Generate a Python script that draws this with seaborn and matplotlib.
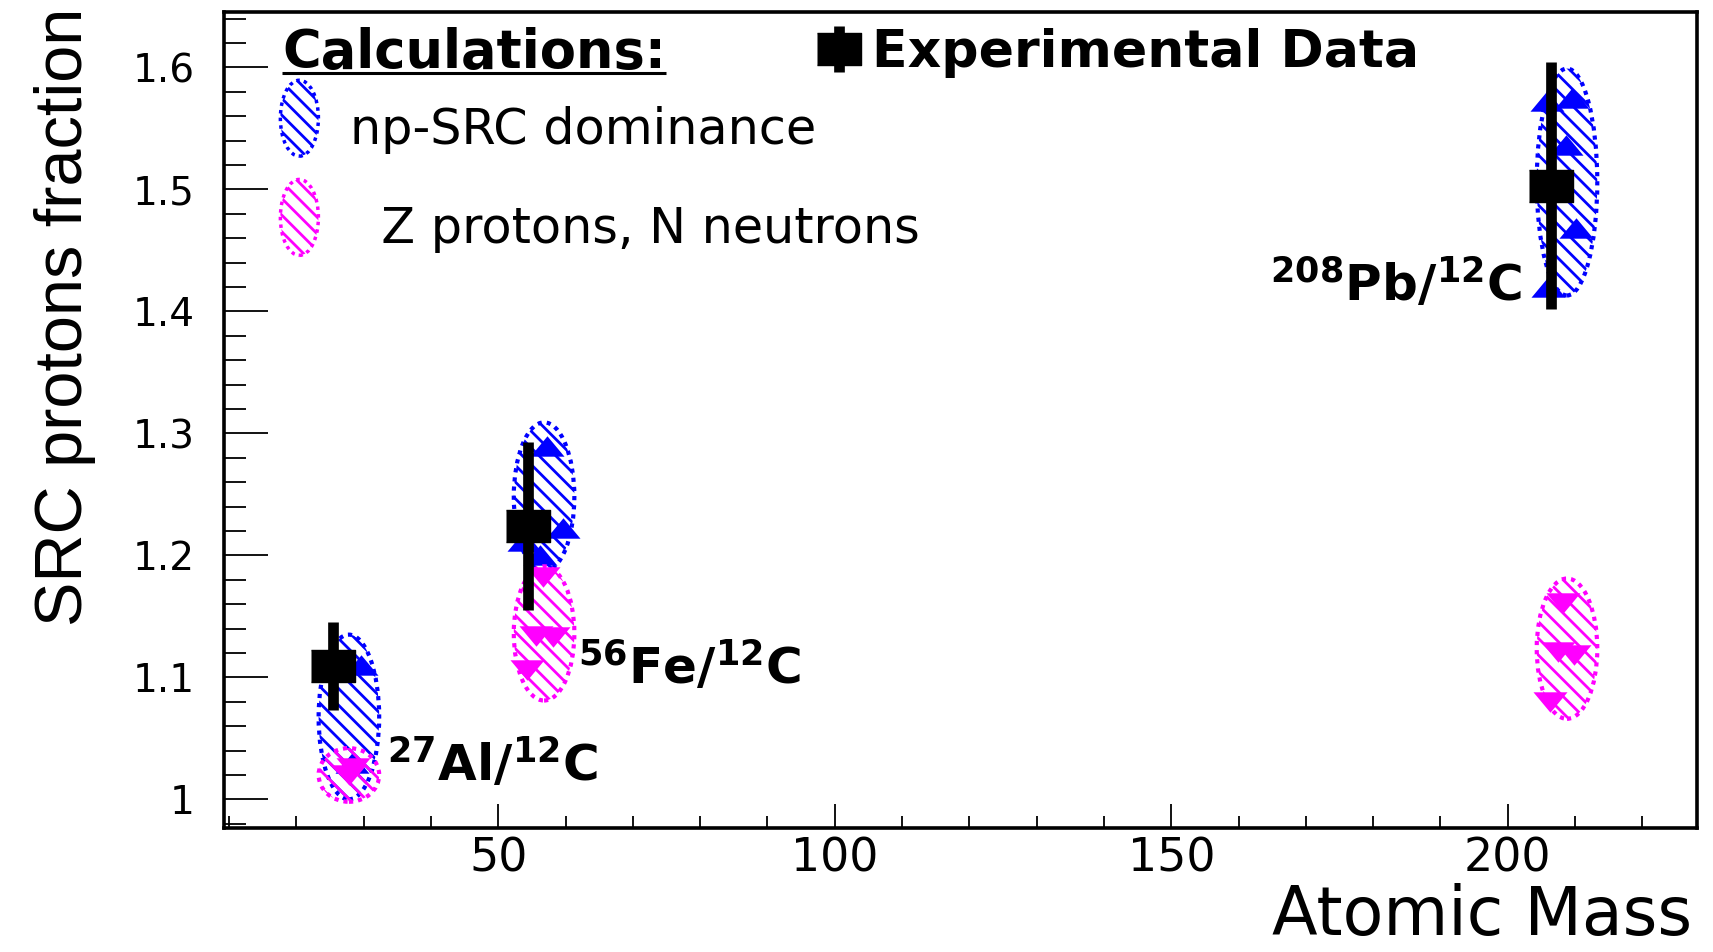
import numpy as np
import pandas as pd
import matplotlib
matplotlib.use("Agg")
import matplotlib.pyplot as plt
import seaborn as sns
from matplotlib.patches import Ellipse, Patch
from matplotlib.legend_handler import HandlerPatch, HandlerErrorbar
from matplotlib.container import ErrorbarContainer
from matplotlib.markers import MarkerStyle
from matplotlib.ticker import MultipleLocator
from matplotlib import font_manager

# ---------------- data ----------------
nuclei_labels = [r"$^{\mathbf{27}}$Al/$^{\mathbf{12}}$C",
                 r"$^{\mathbf{56}}$Fe/$^{\mathbf{12}}$C",
                 r"$^{\mathbf{208}}$Pb/$^{\mathbf{12}}$C"]
mass_number = [27, 56, 208]

# experimental data (ratio to 12C) and uncertainties
exp_ratio = [1.109, 1.224, 1.503]
exp_err = [0.036, 0.069, 0.101]

# calculation bands (low / high value of each band)
np_band_low = [1.000, 1.187, 1.413]
np_band_high = [1.135, 1.309, 1.599]
zn_band_low = [0.998, 1.081, 1.066]
zn_band_high = [1.042, 1.191, 1.181]

# individual calculations inside the bands
np_calc_A = [28.3, 29.6, 57.2, 59.6, 56.2, 53.8, 205.8, 209.5, 208.7, 210.2, 206.0]
np_calc_ratio = [1.030, 1.110, 1.290, 1.222, 1.200, 1.212, 1.572, 1.575, 1.536, 1.468, 1.420]
zn_calc_A = [27.8, 28.4, 56.7, 55.6, 58.2, 54.2, 208.2, 207.4, 209.8, 206.3]
zn_calc_ratio = [1.020, 1.026, 1.182, 1.134, 1.133, 1.106, 1.161, 1.121, 1.118, 1.080]

x_ticks = [50, 100, 150, 200]
y_ticks = [1.0, 1.1, 1.2, 1.3, 1.4, 1.5, 1.6]
y_tick_labels = ["1", "1.1", "1.2", "1.3", "1.4", "1.5", "1.6"]

# label anchor positions (A, ratio) for the nucleus annotations
label_A = [33.4, 61.8, 202.1]
label_ratio = [1.0152, 1.0945, 1.4085]
label_ha = ["left", "left", "right"]

# ---------------- style ----------------
sns.set_theme(style="white")
plt.rcParams["font.family"] = ["DejaVu Sans"]
plt.rcParams["mathtext.fontset"] = "dejavusans"
plt.rcParams["hatch.linewidth"] = 2.0
plt.rcParams["text.color"] = "black"
plt.rcParams["axes.labelcolor"] = "black"
plt.rcParams["xtick.color"] = "black"
plt.rcParams["ytick.color"] = "black"
plt.rcParams["axes.edgecolor"] = "black"

BLUE = "#0000ff"
MAGENTA = "#ff00ff"
HATCH = "\\\\"
DOTS = (0, (1, 1.2))
EXP_SHIFT = -1.6
BAND_SHIFT = 0.8
BAND_WIDTH = 9.0

fig = plt.figure(figsize=(17.13, 9.52), dpi=100)
ax = fig.add_axes([0.13076, 0.13025, 0.85972, 0.85746])

# bands
for A, lo, hi in zip(mass_number, np_band_low, np_band_high):
    ax.add_patch(Ellipse((A + BAND_SHIFT, 0.5 * (lo + hi)), BAND_WIDTH, hi - lo,
                         facecolor="none", edgecolor=BLUE, hatch=HATCH,
                         linestyle=DOTS, linewidth=3, zorder=2))
np_df = pd.DataFrame({"A": np_calc_A, "ratio": np_calc_ratio})
tri_up = MarkerStyle([(-1, -0.6), (1, -0.6), (0, 0.6)])
tri_dn = MarkerStyle([(-1, 0.6), (1, 0.6), (0, -0.6)])
sns.scatterplot(data=np_df, x="A", y="ratio", marker=tri_up, s=600, color=BLUE,
                edgecolor=BLUE, linewidth=0, ax=ax, zorder=2.5, legend=False)

for A, lo, hi in zip(mass_number, zn_band_low, zn_band_high):
    ax.add_patch(Ellipse((A + BAND_SHIFT, 0.5 * (lo + hi)), BAND_WIDTH, hi - lo,
                         facecolor="none", edgecolor=MAGENTA, hatch=HATCH,
                         linestyle=DOTS, linewidth=3, zorder=3))
zn_df = pd.DataFrame({"A": zn_calc_A, "ratio": zn_calc_ratio})
sns.scatterplot(data=zn_df, x="A", y="ratio", marker=tri_dn, s=600, color=MAGENTA,
                edgecolor=MAGENTA, linewidth=0, ax=ax, zorder=3.5, legend=False)

# experimental data
rect = MarkerStyle([(-1, -0.74), (1, -0.74), (1, 0.74), (-1, 0.74)])
eb = ax.errorbar(np.array(mass_number) + EXP_SHIFT, exp_ratio, yerr=exp_err,
                 marker=rect, linestyle="none", color="black", ecolor="black",
                 markersize=31, elinewidth=7.7, capsize=0, zorder=5)

# nucleus annotations
for txt, xa, ya, ha in zip(nuclei_labels, label_A, label_ratio, label_ha):
    ax.text(xa, ya, txt, fontsize=36, fontweight="bold", ha=ha, va="baseline",
            color="black", zorder=6)

# axes
ax.set_xlim(9.24, 228.07)
ax.set_ylim(0.9765, 1.6456)
ax.set_xticks(x_ticks)
ax.set_yticks(y_ticks, labels=y_tick_labels)
ax.xaxis.set_minor_locator(MultipleLocator(10))
ax.yaxis.set_minor_locator(MultipleLocator(0.02))
ax.tick_params(axis="y", which="major", direction="in", length=32, width=1.3,
               labelsize=28, pad=21, left=True, right=False, color="black",
               labelcolor="black")
ax.tick_params(axis="y", which="minor", direction="in", length=16, width=1.3,
               left=True, right=False, color="black")
ax.tick_params(axis="x", which="major", direction="in", length=17, width=1.3,
               labelsize=33, pad=6, bottom=True, top=False, color="black",
               labelcolor="black")
ax.tick_params(axis="x", which="minor", direction="in", length=8.6, width=1.3,
               bottom=True, top=False, color="black")
for sp in ax.spines.values():
    sp.set_linewidth(2.6)
    sp.set_color("black")

# axis titles
try:
    font_manager.findfont(font_manager.FontProperties(family="Liberation Sans Narrow"),
                          fallback_to_default=False)
    ylab_family, ylab_size = ["Liberation Sans Narrow", "DejaVu Sans"], 58
except Exception:
    ylab_family, ylab_size = ["Liberation Sans", "DejaVu Sans"], 48
ax.set_ylabel("SRC protons fraction", loc="top", family=ylab_family,
              fontsize=ylab_size, va="baseline", color="black")
ax.yaxis.set_label_coords(-0.0964, 1.005)
ax.set_xlabel("Atomic Mass", loc="right", fontsize=48, va="baseline", color="black")
ax.xaxis.set_label_coords(0.997, -0.1311)


# legends
class HandlerBand(HandlerPatch):
    def create_artists(self, legend, orig_handle, xdescent, ydescent, width, height,
                       fontsize, trans):
        center = (-xdescent + 0.5 * width, -ydescent + 0.5 * height + 0.2 * fontsize)
        p = Ellipse(center, width=0.93 * width, height=1.54 * fontsize)
        self.update_prop(p, orig_handle, legend)
        p.set_transform(trans)
        return [p]


np_proxy = Patch(facecolor="none", edgecolor=BLUE, hatch=HATCH, linestyle=DOTS, linewidth=2.5)
zn_proxy = Patch(facecolor="none", edgecolor=MAGENTA, hatch=HATCH, linestyle=DOTS, linewidth=2.5)
leg1 = ax.legend([np_proxy, zn_proxy], ["np-SRC dominance", "  Z protons, N neutrons"],
                 handler_map={Patch: HandlerBand()}, loc="upper left",
                 bbox_to_anchor=(0.0373, 0.9043), frameon=False, fontsize=35.5,
                 handlelength=0.83, handleheight=2.01, labelspacing=0.46,
                 handletextpad=0.61, borderpad=0, borderaxespad=0, labelcolor="black")
ax.add_artist(leg1)
leg2 = ax.legend([eb], ["Experimental Data"],
                 handler_map={ErrorbarContainer: HandlerErrorbar(xerr_size=0.45)},
                 loc="upper left", bbox_to_anchor=(0.4027, 0.9798), frameon=False,
                 prop={"weight": "bold", "size": 37.5}, handlelength=0.83,
                 handletextpad=0.23, borderpad=0, borderaxespad=0, numpoints=1,
                 labelcolor="black")

calc_title = ax.text(0.0394, 0.9314, "Calculations:", transform=ax.transAxes,
                     fontsize=38, fontweight="bold", ha="left", va="baseline",
                     color="black")

fig.canvas.draw()
renderer = fig.canvas.get_renderer()
bb = calc_title.get_window_extent(renderer)
inv = ax.transAxes.inverted()
(ux0, _), (ux1, _) = inv.transform([(bb.x0, 0), (bb.x1, 0)])
ax.plot([ux0, ux1], [0.9243, 0.9243], transform=ax.transAxes, color="black",
        lw=2.2, clip_on=False, solid_capstyle="butt")

fig.savefig("out.png", dpi=100)
